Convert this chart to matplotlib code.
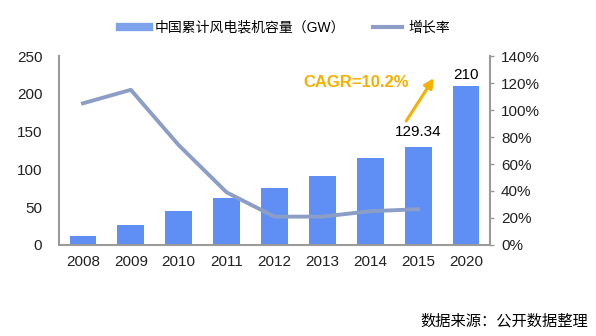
import matplotlib.pyplot as plt
from matplotlib.lines import Line2D
import numpy as np

years = ["2008", "2009", "2010", "2011", "2012", "2013", "2014", "2015", "2020"]
capacity = [12.0, 25.8, 44.7, 62.4, 75.3, 91.4, 114.6, 129.34, 210]
growth_years = ["2008", "2009", "2010", "2011", "2012", "2013", "2014", "2015"]
growth = [1.05, 1.15, 0.74, 0.39, 0.21, 0.21, 0.25, 0.265]
left_ticks = [0, 50, 100, 150, 200, 250]
right_ticks = [0, 0.2, 0.4, 0.6, 0.8, 1.0, 1.2, 1.4]

plt.rcParams["font.family"] = ["Liberation Sans", "Noto Sans CJK SC", "DejaVu Sans"]

BAR = "#5F8FF5"
LINE = "#8C9EC6"
AXIS = "#9A9A9A"

fig = plt.figure(figsize=(5.96, 3.36), dpi=100)
ax = fig.add_axes([0.099, 0.271, 0.723, 0.562])
x = np.arange(len(years))
ax.bar(x, capacity, width=0.56, color=BAR, zorder=2)
ax.set_xlim(-0.5, len(years) - 0.5)
ax.set_ylim(0, 250)
ax.set_yticks(left_ticks)
ax.set_xticks(x)
ax.set_xticklabels(years)
ax.tick_params(axis="both", length=0, labelsize=11, colors="#222222")
ax.tick_params(axis="y", pad=12)
ax.tick_params(axis="x", pad=7)
for s in ["top", "right"]:
    ax.spines[s].set_visible(False)
for s in ["left", "bottom"]:
    ax.spines[s].set_color(AXIS)
    ax.spines[s].set_linewidth(1.5)

# labels over the last two bars
ax.text(x[-1], capacity[-1] + 6, "210", ha="center", va="bottom", fontsize=11)
ax.text(x[-2], capacity[-2] + 11, "129.34", ha="center", va="bottom", fontsize=11)

ax2 = ax.twinx()
ax2.plot(np.arange(len(growth_years)), growth, color=LINE, linewidth=2.8, zorder=3)
ax2.set_ylim(0, 1.4)
ax2.set_yticks(right_ticks)
ax2.set_yticklabels([f"{int(round(v * 100))}%" for v in right_ticks])
ax2.tick_params(axis="y", length=3, width=1, color=AXIS, labelsize=11, colors="#222222", pad=5)
ax2.tick_params(axis="y", color=AXIS)
for s in ["top", "left", "bottom"]:
    ax2.spines[s].set_visible(False)
ax2.spines["right"].set_color(AXIS)
ax2.spines["right"].set_linewidth(1.5)

ax.annotate("", xy=(7.36, 224), xytext=(6.72, 161),
            arrowprops=dict(arrowstyle="-|>", color="#F5B000", lw=2.2, mutation_scale=14))
ax.text(5.71, 215, "CAGR=10.2%", color="#F5B000", fontsize=12, fontweight="bold",
        ha="center", va="center")

handles = [Line2D([0], [0], color="#7FA2EC", linewidth=6),
           Line2D([0], [0], color=LINE, linewidth=3)]
fig.legend(handles, ["中国累计风电装机容量（GW）", "增长率"], loc="center",
           bbox_to_anchor=(0.478, 0.918), ncol=2, frameon=False, fontsize=10,
           handlelength=2.1, columnspacing=2.0, handletextpad=0.4)

fig.text(0.987, 0.045, "数据来源：公开数据整理", ha="right", va="center", fontsize=11,
         family=["Noto Sans CJK SC"])

fig.savefig("out.png", dpi=100, facecolor="white")
